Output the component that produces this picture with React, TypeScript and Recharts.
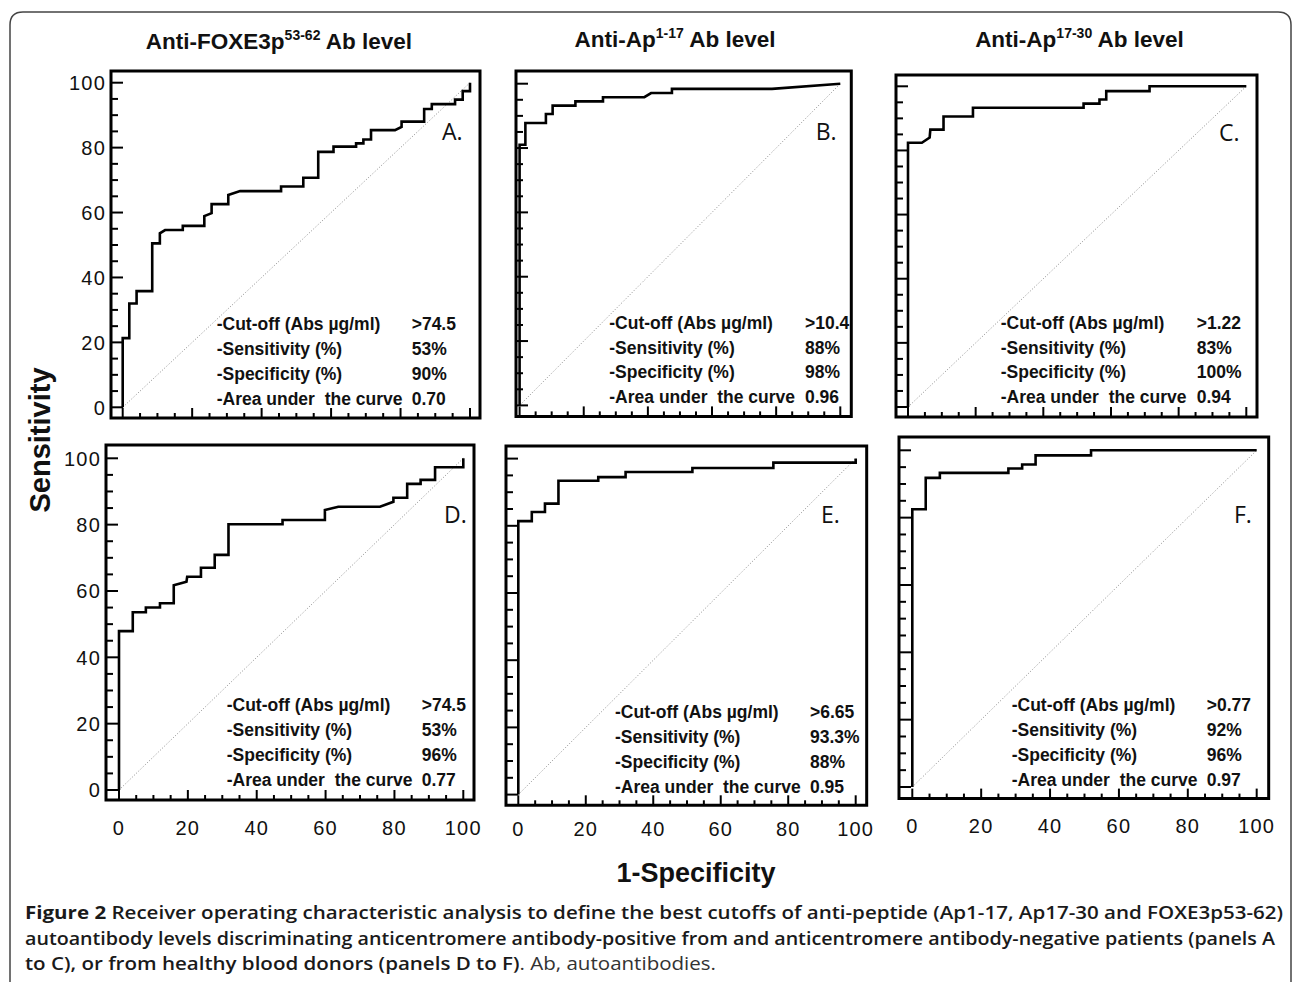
import React from 'react';
import { LineChart, Line, XAxis, YAxis, ReferenceArea, ReferenceLine } from 'recharts';

// ---------- data ----------
const axisTicks = [0, 5, 10, 15, 20, 25, 30, 35, 40, 45, 50, 55, 60, 65, 70, 75, 80, 85, 90, 95, 100];
const majorTicks = [0, 20, 40, 60, 80, 100];

const rocA = [
  { x: 0, y: 0 }, { x: 0, y: 21.3 }, { x: 1.9, y: 21.3 }, { x: 1.9, y: 32 }, { x: 4, y: 32 }, { x: 4, y: 35.8 },
  { x: 8.5, y: 35.8 }, { x: 8.5, y: 50.5 }, { x: 10.7, y: 50.5 }, { x: 10.7, y: 53.6 }, { x: 12.2, y: 54.6 },
  { x: 17.3, y: 54.6 }, { x: 17.3, y: 55.9 }, { x: 23.5, y: 55.9 }, { x: 23.5, y: 58.9 }, { x: 25.6, y: 59.8 },
  { x: 25.6, y: 62.6 }, { x: 30.4, y: 62.6 }, { x: 30.4, y: 65.4 }, { x: 33.8, y: 66.6 }, { x: 45.6, y: 66.6 },
  { x: 45.6, y: 68 }, { x: 52, y: 68 }, { x: 52, y: 70.7 }, { x: 56.3, y: 70.7 }, { x: 56.3, y: 78.7 },
  { x: 60.7, y: 78.7 }, { x: 60.7, y: 80.3 }, { x: 67.2, y: 80.3 }, { x: 67.2, y: 81.3 }, { x: 69.3, y: 81.3 },
  { x: 69.3, y: 82.5 }, { x: 71.5, y: 82.5 }, { x: 71.5, y: 85.4 }, { x: 78.4, y: 85.4 }, { x: 80.3, y: 86.4 },
  { x: 80.3, y: 88 }, { x: 86.8, y: 88 }, { x: 86.8, y: 91.9 }, { x: 89, y: 91.9 }, { x: 89, y: 93.4 },
  { x: 95.7, y: 93.4 }, { x: 95.7, y: 94.8 }, { x: 97.9, y: 94.8 }, { x: 97.9, y: 97.4 }, { x: 100, y: 97.4 },
  { x: 100, y: 100 },
];
const rocB = [
  { x: 0, y: 0 }, { x: 0, y: 81 }, { x: 1.8, y: 81 }, { x: 1.8, y: 87.8 }, { x: 8.2, y: 87.8 }, { x: 8.2, y: 90.6 },
  { x: 10.3, y: 90.6 }, { x: 10.3, y: 93.2 }, { x: 17.4, y: 93.2 }, { x: 17.4, y: 94.5 }, { x: 26, y: 94.5 },
  { x: 26, y: 95.8 }, { x: 38.9, y: 95.8 }, { x: 41, y: 97.1 }, { x: 47.5, y: 97.1 }, { x: 47.5, y: 98.4 },
  { x: 78.7, y: 98.4 }, { x: 100, y: 100 },
];
const rocC = [
  { x: 0, y: 0 }, { x: 0, y: 82.4 }, { x: 4.1, y: 82.4 }, { x: 6.4, y: 84 }, { x: 6.6, y: 86.5 }, { x: 10.5, y: 86.5 },
  { x: 10.5, y: 90.6 }, { x: 19.2, y: 90.6 }, { x: 19.2, y: 93.3 }, { x: 51.9, y: 93.3 }, { x: 51.9, y: 94.6 },
  { x: 56.6, y: 94.6 }, { x: 56.6, y: 95.9 }, { x: 58.6, y: 95.9 }, { x: 58.6, y: 98.5 }, { x: 71.4, y: 98.5 },
  { x: 71.4, y: 100 }, { x: 100, y: 100 },
];
const rocD = [
  { x: 0, y: 0 }, { x: 0, y: 47.9 }, { x: 4, y: 47.9 }, { x: 4, y: 53.6 }, { x: 7.8, y: 53.6 }, { x: 7.8, y: 55 },
  { x: 11.9, y: 55 }, { x: 11.9, y: 56.3 }, { x: 15.9, y: 56.3 }, { x: 15.9, y: 61.7 }, { x: 19.6, y: 62.8 },
  { x: 19.8, y: 64.3 }, { x: 23.8, y: 64.3 }, { x: 23.8, y: 67 }, { x: 27.8, y: 67 }, { x: 27.8, y: 70.9 },
  { x: 31.8, y: 70.9 }, { x: 31.8, y: 80.1 }, { x: 47.5, y: 80.1 }, { x: 47.5, y: 81.4 }, { x: 59.8, y: 81.4 },
  { x: 59.8, y: 84.4 }, { x: 63.7, y: 85.4 }, { x: 75.8, y: 85.4 }, { x: 79.7, y: 86.9 }, { x: 79.7, y: 88.1 },
  { x: 83.7, y: 88.1 }, { x: 83.7, y: 92.3 }, { x: 87.6, y: 92.3 }, { x: 87.6, y: 93.5 }, { x: 91.8, y: 93.5 },
  { x: 91.8, y: 97.3 }, { x: 100, y: 97.3 }, { x: 100, y: 100 },
];
const rocE = [
  { x: 0, y: 0 }, { x: 0, y: 81.4 }, { x: 4, y: 81.4 }, { x: 4, y: 84.1 }, { x: 7.9, y: 84.1 }, { x: 7.9, y: 86.6 },
  { x: 11.9, y: 86.6 }, { x: 11.9, y: 93.4 }, { x: 23.7, y: 93.4 }, { x: 23.7, y: 94.5 }, { x: 31.8, y: 94.5 },
  { x: 31.8, y: 96 }, { x: 51.6, y: 96 }, { x: 51.6, y: 97.2 }, { x: 75.6, y: 97.2 }, { x: 75.6, y: 98.8 },
  { x: 100, y: 98.8 }, { x: 100, y: 100 },
];
const rocF = [
  { x: 0, y: 0 }, { x: 0, y: 82.5 }, { x: 3.9, y: 82.5 }, { x: 3.9, y: 91.8 }, { x: 8, y: 91.8 }, { x: 8, y: 93.3 },
  { x: 27.9, y: 93.3 }, { x: 27.9, y: 94.6 }, { x: 31.9, y: 94.6 }, { x: 31.9, y: 95.8 }, { x: 35.8, y: 95.8 },
  { x: 35.8, y: 98.5 }, { x: 51.9, y: 98.5 }, { x: 51.9, y: 100 }, { x: 100, y: 100 },
];
const chanceLine = [{ x: 0, y: 0 }, { x: 100, y: 100 }];

const statLabels = ['-Cut-off (Abs µg/ml)', '-Sensitivity (%)', '-Specificity (%)', '-Area under  the curve'];
const statsA = ['>74.5', '53%', '90%', '0.70'];
const statsB = ['>10.4', '88%', '98%', '0.96'];
const statsC = ['>1.22', '83%', '100%', '0.94'];
const statsD = ['>74.5', '53%', '96%', '0.77'];
const statsE = ['>6.65', '93.3%', '88%', '0.95'];
const statsF = ['>0.77', '92%', '96%', '0.97'];

const panelLetters = ['A.', 'B.', 'C.', 'D.', 'E.', 'F.'];
const titleMain = ['Anti-FOXE3p', 'Anti-Ap', 'Anti-Ap'];
const titleSup = ['53-62', '1-17', '17-30'];
const titleTail = ' Ab level';
const yAxisTitle = 'Sensitivity';
const xAxisTitle = '1-Specificity';

// ---------- layout (pixels) ----------
const BOLD = 'Liberation Sans, Arial, Helvetica, sans-serif';
const OPEN = 'Open Sans, Noto Sans, sans-serif';
const PADL = 62, PADR = 26, PADT = 6, PADB = 48;

const panels = [
  { data: rocA, stats: statsA, letter: panelLetters[0], showX: false, showY: true,
    L: { left: 111, top: 71, right: 480, bottom: 418, x0: 122.7, x100: 470, y0: 407.3, y100: 82.7 },
    sx: 216.7, vx: 411.7, sy: [330, 355, 380, 404.5], lx: 442, ly: 140, xl: 0 },
  { data: rocB, stats: statsB, letter: panelLetters[1], showX: false, showY: false,
    L: { left: 515.7, top: 71.3, right: 851, bottom: 416.7, x0: 519.3, x100: 840, y0: 405.7, y100: 84 },
    sx: 609.3, vx: 805, sy: [329, 353.5, 378, 403], lx: 815.7, ly: 140, xl: 0 },
  { data: rocC, stats: statsC, letter: panelLetters[2], showX: false, showY: false,
    L: { left: 895.7, top: 74.7, right: 1256.7, bottom: 416.7, x0: 907.7, x100: 1246, y0: 406.7, y100: 86 },
    sx: 1000.7, vx: 1196.7, sy: [329, 353.5, 377.5, 403], lx: 1219, ly: 140.7, xl: 0 },
  { data: rocD, stats: statsD, letter: panelLetters[3], showX: true, showY: true,
    L: { left: 106, top: 445, right: 474, bottom: 800, x0: 119, x100: 463.3, y0: 790, y100: 458.3 },
    sx: 226.7, vx: 421.7, sy: [711, 736, 761, 786], lx: 444, ly: 523.3, xl: 835 },
  { data: rocE, stats: statsE, letter: panelLetters[4], showX: true, showY: false,
    L: { left: 506, top: 445.7, right: 866.7, bottom: 805, x0: 518.3, x100: 855.7, y0: 794.3, y100: 458.3 },
    sx: 615, vx: 810, sy: [718, 742.7, 767.7, 792.7], lx: 821, ly: 523.3, xl: 836 },
  { data: rocF, stats: statsF, letter: panelLetters[5], showX: true, showY: false,
    L: { left: 899, top: 436.7, right: 1268.7, bottom: 798.3, x0: 912.3, x100: 1256.7, y0: 786.7, y100: 450 },
    sx: 1011.7, vx: 1206.7, sy: [711, 736, 761, 786], lx: 1234, ly: 523.3, xl: 833 },
];

const tickFont = { fontFamily: BOLD, fontSize: 20, letterSpacing: 1.2, fill: '#111' };

const makeXTick = (showLabel: boolean, labelDy: number) => (props: any) => {
  const { x, y, payload } = props;
  const v = payload.value;
  const major = majorTicks.includes(v);
  return (
    <g>
      <line x1={x} x2={x} y1={y} y2={y - (major ? 10 : 5)} stroke="#000" strokeWidth={2} />
      {showLabel && major && (
        <text x={x} y={y + labelDy} textAnchor="middle" {...tickFont}>{v}</text>
      )}
    </g>
  );
};

const makeYTick = (showLabel: boolean) => (props: any) => {
  const { x, y, payload } = props;
  const v = payload.value;
  const major = majorTicks.includes(v);
  return (
    <g>
      <line x1={x} x2={x + (major ? 12 : 7)} y1={y} y2={y} stroke="#000" strokeWidth={2} />
      {showLabel && major && (
        <text x={x - 5} y={y} dy="0.36em" textAnchor="end" {...tickFont}>{v}</text>
      )}
    </g>
  );
};

function Panel({ p }: { p: any }) {
  const L = p.L;
  const sxp = (L.x100 - L.x0) / 100;
  const syp = (L.y0 - L.y100) / 100;
  const xmin = (L.left - L.x0) / sxp;
  const xmax = (L.right - L.x0) / sxp;
  const ymin = (L.y0 - L.bottom) / syp;
  const ymax = (L.y0 - L.top) / syp;
  const w = L.right - L.left + PADL + PADR;
  const h = L.bottom - L.top + PADT + PADB;
  return (
    <div style={{ position: 'absolute', left: L.left - PADL, top: L.top - PADT }}>
      <LineChart width={w} height={h} data={p.data} margin={{ top: PADT, right: PADR, left: 0, bottom: 0 }}>
        <XAxis type="number" dataKey="x" domain={[xmin, xmax]} allowDataOverflow ticks={axisTicks}
          interval={0} height={PADB} axisLine={false} tickLine={false} tickSize={0} tickMargin={0}
          tick={makeXTick(p.showX, p.xl - L.bottom)} />
        <YAxis type="number" dataKey="y" domain={[ymin, ymax]} allowDataOverflow ticks={axisTicks}
          interval={0} width={PADL} axisLine={false} tickLine={false} tickSize={0} tickMargin={0}
          tick={makeYTick(p.showY)} />
        <ReferenceArea x1={xmin} x2={xmax} y1={ymin} y2={ymax} fill="none" fillOpacity={0}
          stroke="#000" strokeWidth={3} ifOverflow="visible" />
        <ReferenceLine segment={chanceLine} stroke="#8a8a8a" strokeWidth={1} strokeDasharray="1 2" ifOverflow="visible" />
        <Line type="linear" dataKey="y" stroke="#000" strokeWidth={2.6} dot={false} activeDot={false}
          isAnimationActive={false} />
      </LineChart>
    </div>
  );
}

const titleCenters = [[279, 49], [675, 47], [1079.5, 47]];

export default function App() {
  const statFont = { fontFamily: BOLD, fontSize: 17.5, fontWeight: 700, fill: '#111' };
  return (
    <div style={{ position: 'absolute', left: 0, top: 0, width: 1293, height: 982, background: '#fff', overflow: 'hidden' }}>
      {panels.map((p, i) => <Panel key={i} p={p} />)}
      <svg width={1293} height={982} style={{ position: 'absolute', left: 0, top: 0, pointerEvents: 'none' }}>
        <path d="M10,995 L10,25 Q10,12 23,12 L1278,12 Q1291,12 1291,25 L1291,995" fill="none" stroke="#444" strokeWidth={1.5} />
        {titleCenters.map(([cx, cy], i) => (
          <text key={i} x={cx} y={cy} textAnchor="middle" fontFamily={BOLD} fontWeight={700} fontSize={22.5} fill="#111">
            <tspan>{titleMain[i]}</tspan>
            <tspan fontSize={14} dy={-9}>{titleSup[i]}</tspan>
            <tspan dy={9}>{titleTail}</tspan>
          </text>
        ))}
        {panels.map((p, i) => (
          <g key={i}>
            {statLabels.map((s, k) => (
              <text key={'l' + k} x={p.sx} y={p.sy[k]} {...statFont} style={{ whiteSpace: 'pre' }}>{s}</text>
            ))}
            {p.stats.map((s: string, k: number) => (
              <text key={'v' + k} x={p.vx} y={p.sy[k]} {...statFont}>{s}</text>
            ))}
            <text x={p.lx} y={p.ly} fontFamily={OPEN} fontSize={23} fill="#111">{p.letter}</text>
          </g>
        ))}
        <text transform="translate(50,440) rotate(-90)" textAnchor="middle" fontFamily={BOLD} fontWeight={700} fontSize={29} fill="#111">{yAxisTitle}</text>
        <text x={696} y={882} textAnchor="middle" fontFamily={BOLD} fontWeight={700} fontSize={27} fill="#111">{xAxisTitle}</text>
        <text x={25} y={919} fontFamily={OPEN} fontSize={18} fill="#1a1a1a" textLength={1258} lengthAdjust="spacingAndGlyphs">
          <tspan fontWeight={700}>Figure 2</tspan>
          <tspan fontWeight={600}> Receiver operating characteristic analysis to define the best cutoffs of anti-peptide (Ap1-17, Ap17-30 and FOXE3p53-62)</tspan>
        </text>
        <text x={25} y={945} fontFamily={OPEN} fontSize={18} fontWeight={600} fill="#1a1a1a" textLength={1250} lengthAdjust="spacingAndGlyphs">
          autoantibody levels discriminating anticentromere antibody-positive from and anticentromere antibody-negative patients (panels A
        </text>
        <text x={25} y={970} fontFamily={OPEN} fontSize={18} fill="#1a1a1a" textLength={691} lengthAdjust="spacingAndGlyphs">
          <tspan fontWeight={600}>to C), or from healthy blood donors (panels D to F)</tspan>
          <tspan fontWeight={400} fill="#333">. Ab, autoantibodies.</tspan>
        </text>
      </svg>
    </div>
  );
}
